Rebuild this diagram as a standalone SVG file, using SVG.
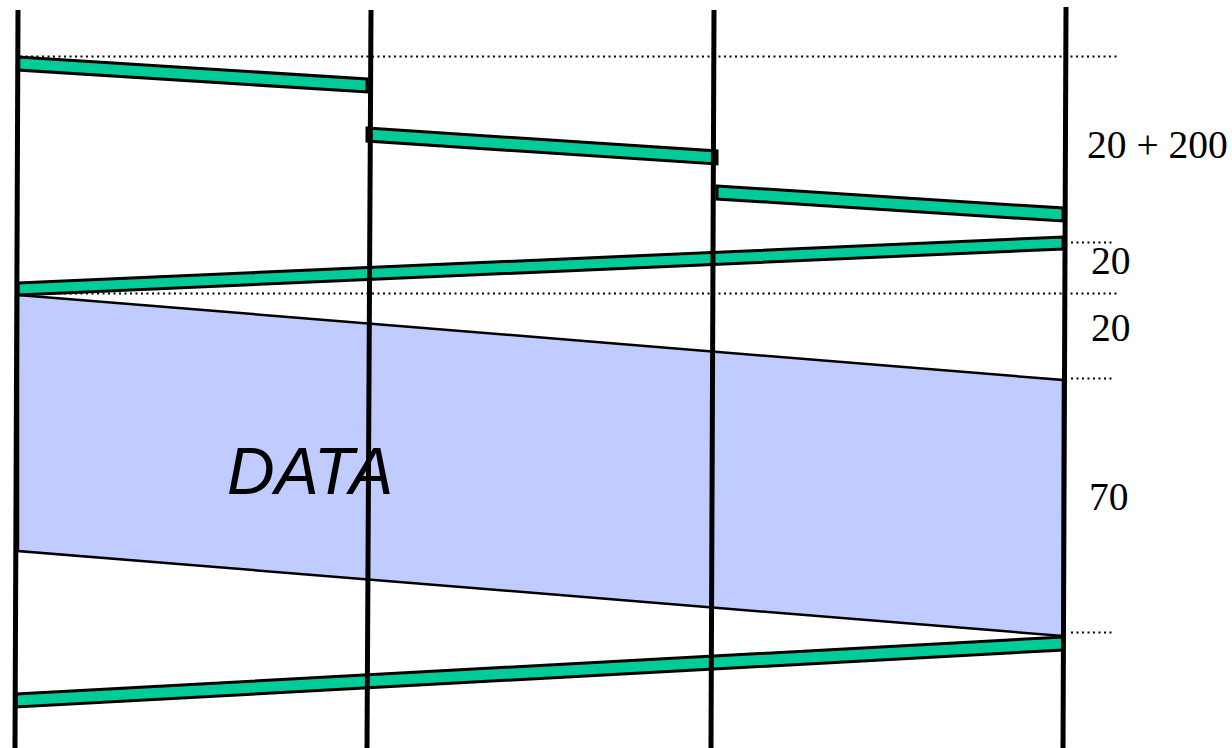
<svg xmlns="http://www.w3.org/2000/svg" width="1232" height="748" viewBox="0 0 1232 748">
<style>
.bar{fill:#00cc99;stroke:#000;stroke-width:3;stroke-linejoin:miter}
.data{fill:#c0ccff;stroke:#000;stroke-width:2.5}
.host{stroke:#000;stroke-width:5;fill:none}
.dot{stroke:#000;stroke-width:2;stroke-dasharray:2 3.5;fill:none}
.num{font-family:"Liberation Serif","Times New Roman",serif;font-size:39.5px;fill:#000}
.lbl{font-family:"Liberation Sans",Arial,sans-serif;font-size:66px;font-style:italic;fill:#000}
</style>
<rect width="1232" height="748" fill="#fff"/>
<g id="data">
<polygon class="data" points="18,295 1063,380 1063,636 18,551"/>
<text class="lbl" x="227" y="494">DATA</text>
</g>
<g id="guides">
<line class="dot" x1="20" y1="56.5" x2="1117" y2="56.5"/>
<line class="dot" x1="20" y1="293.5" x2="1117" y2="293.5"/>
<line class="dot" x1="1071" y1="242.5" x2="1114" y2="242.5"/>
<line class="dot" x1="1071" y1="378.5" x2="1114" y2="378.5"/>
<line class="dot" x1="1071" y1="632.5" x2="1114" y2="632.5"/>
</g>
<g id="connectors">
<polygon id="seg1" class="bar" points="18,57 367,79 367,92 18,70"/>
<polygon id="seg2" class="bar" points="367,128 717,151 717,164 367,141"/>
<polygon id="seg3" class="bar" points="717,186 1063,208 1063,221 717,199"/>
<polygon id="ack1" class="bar" points="18,283 1063,237 1063,249 18,295"/>
<polygon id="ack2" class="bar" points="16,694 1063,637 1063,650 16,707"/>
</g>
<g id="hosts">
<line id="h1" class="host" x1="18" y1="10" x2="15" y2="748"/>
<line id="h2" class="host" x1="371" y1="10" x2="367" y2="748"/>
<line id="h3" class="host" x1="714" y1="10" x2="711" y2="748"/>
<line id="h4" class="host" x1="1066" y1="7" x2="1063" y2="748"/>
</g>
<g id="labels">
<text class="num" x="1087" y="158">20 + 200</text>
<text class="num" x="1091" y="274">20</text>
<text class="num" x="1091" y="341">20</text>
<text class="num" x="1089" y="510">70</text>
</g>
</svg>
